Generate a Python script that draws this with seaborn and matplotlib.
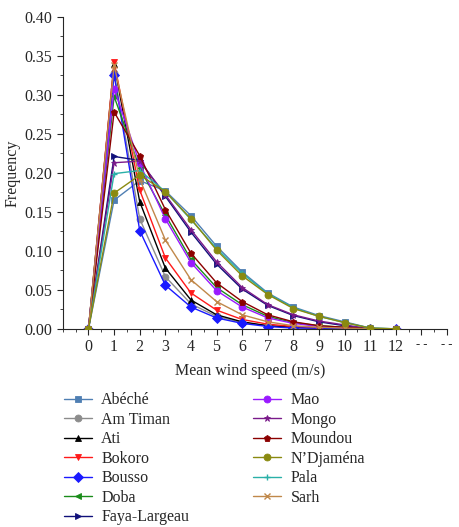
import numpy as np
import pandas as pd
import matplotlib
matplotlib.use("Agg")
import matplotlib.pyplot as plt
import seaborn as sns
from matplotlib.ticker import MultipleLocator

# wind speed classes (m/s)
speeds = list(range(0, 13))

stations = ["Abéché", "Am Timan", "Ati", "Bokoro", "Bousso", "Doba", "Faya-Largeau",
            "Mao", "Mongo", "Moundou", "N\u2019Djaména", "Pala", "Sarh"]

abeche = [0, 0.165, 0.190, 0.177, 0.145, 0.106, 0.073, 0.046, 0.028, 0.017, 0.009, 0.001, 0]
am_timan = [0, 0.328, 0.141, 0.067, 0.032, 0.016, 0.008, 0.004, 0.002, 0.001, 0, 0, 0]
ati = [0, 0.340, 0.163, 0.078, 0.037, 0.018, 0.009, 0.004, 0.002, 0.001, 0, 0, 0]
bokoro = [0, 0.342, 0.178, 0.091, 0.046, 0.024, 0.012, 0.006, 0.003, 0.001, 0, 0, 0]
bousso = [0, 0.326, 0.126, 0.056, 0.028, 0.014, 0.007, 0.003, 0.001, 0.001, 0, 0, 0]
doba = [0, 0.298, 0.206, 0.146, 0.089, 0.053, 0.031, 0.016, 0.008, 0.004, 0.002, 0, 0]
faya = [0, 0.221, 0.216, 0.170, 0.124, 0.083, 0.051, 0.030, 0.017, 0.009, 0.004, 0, 0]
mao = [0, 0.308, 0.212, 0.141, 0.085, 0.049, 0.028, 0.014, 0.007, 0.003, 0.001, 0, 0]
mongo = [0, 0.213, 0.215, 0.172, 0.127, 0.086, 0.053, 0.031, 0.018, 0.010, 0.005, 0, 0]
moundou = [0, 0.278, 0.222, 0.153, 0.097, 0.059, 0.035, 0.018, 0.009, 0.004, 0.002, 0, 0]
ndjamena = [0, 0.174, 0.197, 0.176, 0.141, 0.101, 0.068, 0.044, 0.026, 0.016, 0.008, 0.001, 0]
pala = [0, 0.199, 0.203, 0.176, 0.140, 0.103, 0.071, 0.045, 0.027, 0.016, 0.008, 0.001, 0]
sarh = [0, 0.338, 0.192, 0.114, 0.063, 0.035, 0.018, 0.009, 0.004, 0.002, 0.001, 0, 0]

values = [abeche, am_timan, ati, bokoro, bousso, doba, faya,
          mao, mongo, moundou, ndjamena, pala, sarh]

colors = ["#4f7fb3", "#8c8c8c", "#000000", "#ff1a1a", "#1a1aff", "#1a8c1a", "#10107a",
          "#9a1aff", "#7a1a8a", "#8b0000", "#8a8a10", "#2ab0a8", "#c0884a"]
markers = ["s", "o", "^", "v", "D", "<", ">", "o", "*", "p", "o", "+", "x"]

xtick_labels = [str(i) for i in range(13)] + ["- -", "- -"]

sns.set_style("ticks")
plt.rcParams["font.family"] = ["Liberation Serif", "DejaVu Serif"]

fig = plt.figure(figsize=(4.59, 5.27), dpi=100)
ax = fig.add_axes([0.137, 0.376, 0.837, 0.592])

for name, vals, c, m in zip(stations, values, colors, markers):
    df = pd.DataFrame({"speed": speeds, "freq": vals})
    z = 3 if name.startswith("N") else 2
    sns.lineplot(data=df, x="speed", y="freq", ax=ax, color=c, marker=m,
                 markersize=6 if m not in ("*", "+", "x") else 7,
                 markeredgecolor=c, markeredgewidth=1 if m in ("+", "x") else 0.6,
                 linewidth=1, label=name, zorder=z)

ax.set_xlim(-1, 14)
ax.set_ylim(0, 0.40)
ax.set_xticks(range(15))
ax.set_xticklabels(xtick_labels)
ax.xaxis.set_minor_locator(MultipleLocator(0.5))
ax.yaxis.set_major_locator(MultipleLocator(0.05))
ax.yaxis.set_minor_locator(MultipleLocator(0.025))
ax.yaxis.set_major_formatter(matplotlib.ticker.FormatStrFormatter("%.2f"))
ax.tick_params(which="major", direction="out", length=4, width=0.8, labelsize=11.5)
ax.tick_params(which="minor", direction="out", length=2, width=0.6)
for lbl in ax.get_xticklabels()[-2:]:
    lbl.set_fontsize(9)
for s in ["top", "right"]:
    ax.spines[s].set_visible(False)
ax.spines["left"].set_linewidth(0.8)
ax.spines["bottom"].set_linewidth(0.8)

ax.set_xlabel("Mean wind speed (m/s)", fontsize=11.5)
ax.xaxis.set_label_coords(0.487, -0.11)
ax.set_ylabel("Frequency", fontsize=11.5)
ax.yaxis.set_label_coords(-0.11, 0.5)

handles, labels = ax.get_legend_handles_labels()
ax.get_legend().remove()
for h in handles:
    h.set_markersize(5)
fig.legend(handles, labels, loc="upper left", bbox_to_anchor=(0.125, 0.268), ncol=2,
           frameon=False, fontsize=11.5, handlelength=1.75, columnspacing=4.0,
           labelspacing=0.22, handletextpad=0.6, borderaxespad=0)

fig.savefig("out.png", dpi=100)
